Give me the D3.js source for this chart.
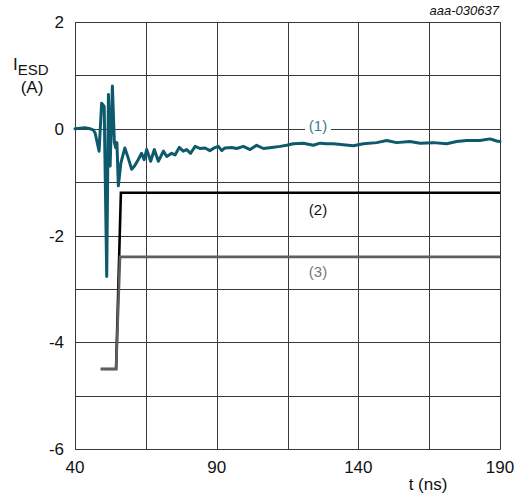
<!DOCTYPE html>
<html>
<head>
<meta charset="utf-8">
<script src="https://cdn.jsdelivr.net/npm/d3@7"></script>
<style>
  html, body { margin: 0; padding: 0; background: #fff; }
  svg { display: block; font-family: "Liberation Sans", Arial, sans-serif; }
</style>
</head>
<body>
<svg id="chart" width="525" height="501"></svg>
<script>
// ---- data ----
const xTicks = [40, 90, 140, 190];
const yTicks = [2, 0, -2, -4, -6];
const xGrid = [40, 65, 90, 115, 140, 165, 190];
const yGrid = [2, 1, 0, -1, -2, -3, -4, -5, -6];

// curve (1): ESD current
const t1 = [40.0, 41.8, 43.5, 45.3, 46.4, 47.1, 48.5, 49.4, 50.3, 51.2, 51.8, 52.4, 53.2, 53.9, 54.4, 54.8, 55.3, 56.2, 57.6, 58.8, 60.0, 61.0, 62.3, 63.5, 64.4, 65.3, 66.7, 68.0, 69.4, 71.2, 72.4, 74.1, 75.3, 76.8, 78.2, 79.4, 80.8, 82.4, 84.1, 85.9, 87.6, 89.1, 90.6, 91.8, 92.9, 95.3, 97.1, 99.4, 101.8, 104.1, 106.5, 109.4, 112.4, 114.7, 117.0, 120.6, 124.1, 126.5, 128.8, 131.2, 134.7, 138.2, 141.8, 146.5, 150.0, 153.5, 158.2, 161.8, 166.5, 171.2, 174.7, 178.2, 182.9, 186.5, 188.8, 190.0];
const v1 = [0.00, 0.01, 0.02, 0.00, -0.02, -0.08, -0.42, 0.48, 0.42, -2.77, 0.64, -0.70, 0.80, -0.26, -0.36, -0.26, -1.07, -0.64, -0.36, -0.55, -0.76, -0.70, -0.58, -0.46, -0.58, -0.39, -0.61, -0.39, -0.61, -0.42, -0.52, -0.46, -0.49, -0.35, -0.42, -0.39, -0.46, -0.33, -0.37, -0.36, -0.41, -0.36, -0.33, -0.41, -0.36, -0.35, -0.37, -0.33, -0.39, -0.31, -0.37, -0.35, -0.33, -0.31, -0.28, -0.27, -0.31, -0.27, -0.28, -0.28, -0.30, -0.32, -0.28, -0.26, -0.22, -0.26, -0.24, -0.27, -0.26, -0.28, -0.24, -0.22, -0.22, -0.19, -0.23, -0.24];

// curve (2)
const t2 = [49.1, 54.5, 56.2, 190];
const v2 = [-4.5, -4.5, -1.2, -1.2];

// curve (3)
const t3 = [49.1, 54.5, 55.9, 190];
const v3 = [-4.5, -4.5, -2.4, -2.4];

const seriesLabels = ["(1)", "(2)", "(3)"];

// ---- layout ----
const svg = d3.select("#chart");
const x = d3.scaleLinear().domain([40, 190]).range([75, 500]);
const y = d3.scaleLinear().domain([-6, 2]).range([449, 22]);
const crisp = v => Math.round(v) + 0.5;

// grid
svg.append("g").selectAll("line").data(xGrid).join("line")
  .attr("x1", d => crisp(x(d))).attr("x2", d => crisp(x(d)))
  .attr("y1", y(2)).attr("y2", y(-6) + 0.5)
  .attr("stroke", "#3a3a3a").attr("stroke-width", 1);
svg.append("g").selectAll("line").data(yGrid).join("line")
  .attr("y1", d => crisp(y(d))).attr("y2", d => crisp(y(d)))
  .attr("x1", x(40)).attr("x2", x(190) + 0.5)
  .attr("stroke", "#3a3a3a").attr("stroke-width", 1);

// tick labels
svg.append("g").selectAll("text").data(yTicks).join("text")
  .attr("x", 64).attr("y", d => y(d) + 6)
  .attr("text-anchor", "end").attr("font-size", 17).attr("fill", "#111")
  .text(d => d);
svg.append("g").selectAll("text").data(xTicks).join("text")
  .attr("x", d => x(d)).attr("y", 473)
  .attr("text-anchor", "middle").attr("font-size", 17).attr("fill", "#111")
  .text(d => d);

// axis titles
svg.append("text").attr("x", 428).attr("y", 490).attr("text-anchor", "middle")
  .attr("font-size", 17).attr("fill", "#111").text("t (ns)");
const yt = svg.append("text").attr("x", 13).attr("y", 70).attr("font-size", 17).attr("fill", "#111");
yt.append("tspan").text("I");
yt.append("tspan").attr("dy", 5).attr("font-size", 15).text("ESD");
svg.append("text").attr("x", 32).attr("y", 93).attr("text-anchor", "middle")
  .attr("font-size", 17).attr("fill", "#111").text("(A)");
svg.append("text").attr("x", 499).attr("y", 15).attr("text-anchor", "end")
  .attr("font-size", 13).attr("font-style", "italic").attr("fill", "#111").text("aaa-030637");

// lines
const line = d3.line().x(d => x(d[0])).y(d => y(d[1]));
const zipData = (a, b) => a.map((d, i) => [d, b[i]]);

svg.append("path").datum(zipData(t2, v2)).attr("d", line)
  .attr("fill", "none").attr("stroke", "#000").attr("stroke-width", 2.6)
  .attr("stroke-linejoin", "miter");
svg.append("path").datum(zipData(t3, v3)).attr("d", line)
  .attr("fill", "none").attr("stroke", "#5e5e61").attr("stroke-width", 2.6)
  .attr("stroke-linejoin", "miter");
svg.append("path").datum(zipData(t1, v1)).attr("d", line)
  .attr("fill", "none").attr("stroke", "#0d5a6c").attr("stroke-width", 3)
  .attr("stroke-linejoin", "round").attr("stroke-linecap", "round");

// series labels
svg.append("rect").attr("x", 305).attr("y", 122).attr("width", 26).attr("height", 14).attr("fill", "#fff");
const labelColors = ["#3c7d8e", "#111", "#777"];
const labelY = [0, -1.2, -2.4];
const labelOff = [2, 22, 20];
svg.append("g").selectAll("text").data(seriesLabels).join("text")
  .attr("x", 318).attr("y", (d, i) => y(labelY[i]) + labelOff[i])
  .attr("text-anchor", "middle").attr("font-size", 15)
  .attr("fill", (d, i) => labelColors[i]).text(d => d);
</script>
</body>
</html>
